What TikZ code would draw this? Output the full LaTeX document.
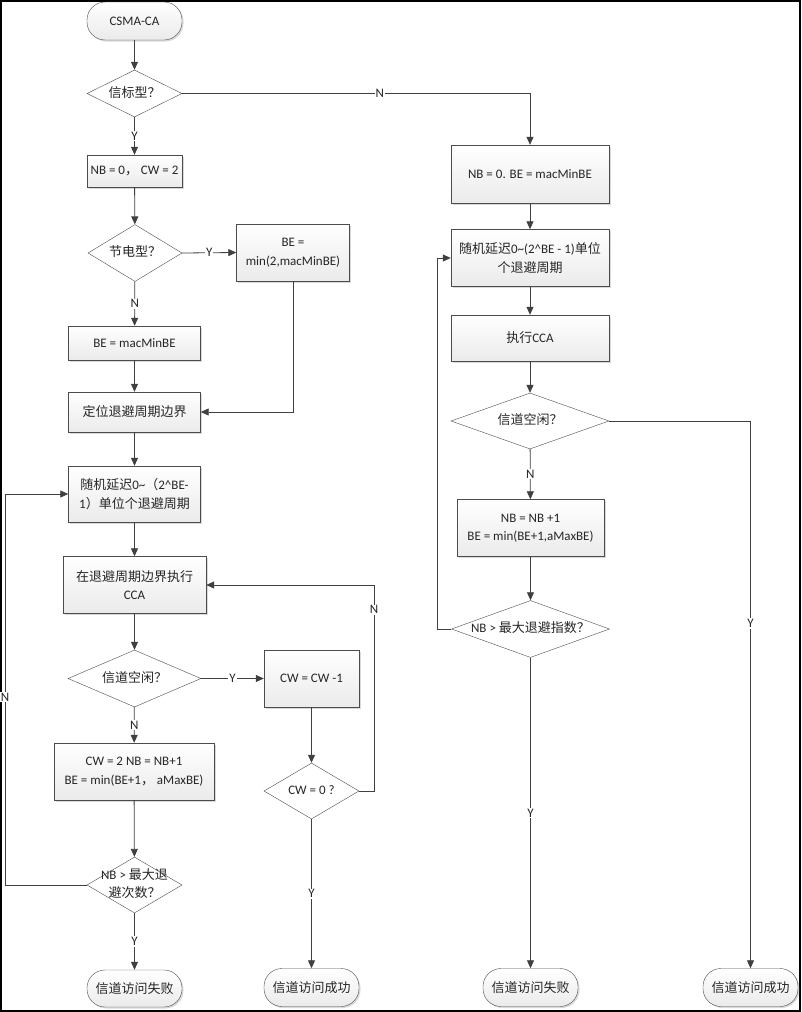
\documentclass[tikz,border=0pt]{standalone}
\usepackage{fontspec}
\setmainfont{Carlito}
\newfontfamily\cjk{Noto Sans CJK SC}
\usetikzlibrary{shapes.geometric,arrows.meta,shadows}
\newcommand{\zh}[1]{{\cjk #1}}
\newcommand{\qtext}[1]{\makebox[0pt]{\begin{tabular}{@{}c@{}}#1\end{tabular}}}

\begin{document}
\begin{tikzpicture}[
    x=1pt, y=-1pt,
    font=\fontsize{13}{18.5}\selectfont, text=black!85,
    box/.style 2 args={draw=black!70, top color=white, bottom color=black!8,
                       drop shadow={shadow xshift=1.5pt, shadow yshift=-1.5pt, opacity=0.3},
                       minimum width=#1pt, minimum height=#2pt, inner sep=2pt, align=center},
    term/.style 2 args={box={#1}{#2}, rounded corners=18pt},
    quest/.style 2 args={diamond, draw=black!70, fill=white, inner sep=0pt,
                         minimum width=#1pt, minimum height=#2pt},
    arr/.style={-{Triangle[length=8pt,width=7pt]}, draw=black!75, line width=0.8pt},
    lbl/.style={fill=white, inner sep=1pt, font=\fontsize{13}{15}\selectfont}
]
\useasboundingbox (0,0) rectangle (801,1012);
\draw[line width=1.6pt] (1,1) rectangle (799.7,1010.7);

\node[term={95}{38}] (start) at (134.5,21) {CSMA-CA};
\node[quest={95}{47}] (q1) at (134.5,93.5) {\qtext{\zh{信标型？}}};
\node[box={95}{32}] (b1) at (134.5,171) {NB = 0\zh{，} CW = 2};
\node[quest={94}{57}] (q2) at (135,253) {\qtext{\zh{节电型？}}};
\node[box={113}{57}] (b2) at (293,252.5) {BE =\\min(2,macMinBE)};
\node[box={132}{34}] (b3) at (134.5,343) {BE = macMinBE};
\node[box={132}{40}] (b4) at (134.5,412) {\zh{定位退避周期边界}};
\node[box={132}{56}] (b5) at (134.5,494) {\zh{随机延迟}0\textasciitilde\zh{（}2\textasciicircum BE-\\1\zh{）单位个退避周期}};
\node[box={143}{57}] (b6) at (134.5,585) {\zh{在退避周期边界执行}\\CCA};
\node[quest={133}{57}] (q3) at (134.5,678.5) {\qtext{\zh{信道空闲？}}};
\node[box={95}{57}] (b7) at (311.5,678.5) {CW = CW -1};
\node[box={160}{57}] (b8) at (134,771.5) {CW = 2 NB = NB+1\\BE = min(BE+1\zh{，} aMaxBE)};
\node[quest={95}{56}] (q4) at (311.5,791) {\qtext{CW = 0 ?}};
\node[quest={95}{56}] (q5) at (134.5,885) {\qtext{NB > \zh{最大退}\\\zh{避次数？}}};
\node[term={95}{37}] (e1) at (134.5,988.5) {\zh{信道访问失败}};
\node[term={95}{38}] (e2) at (311.5,987.5) {\zh{信道访问成功}};

\node[box={158}{58}] (b9) at (530,174) {NB = 0. BE = macMinBE};
\node[box={158}{57}] (b10) at (530,258) {\zh{随机延迟}0\textasciitilde(2\textasciicircum BE - 1)\zh{单位}\\\zh{个退避周期}};
\node[box={158}{46}] (b11) at (530,338) {\zh{执行}CCA};
\node[quest={158}{56}] (q6) at (530,421) {\qtext{\zh{信道空闲？}}};
\node[box={147}{57}] (b12) at (530.5,528) {NB = NB +1\\BE = min(BE+1,aMaxBE)};
\node[quest={158}{57}] (q7) at (530.5,629) {\qtext{NB > \zh{最大退避指数？}}};
\node[term={95}{38}] (e3) at (530.5,987.5) {\zh{信道访问失败}};
\node[term={95}{38}] (e4) at (750.5,987.5) {\zh{信道访问成功}};

\coordinate (c1) at (374,0);
\coordinate (c2) at (5,0);
\coordinate (c3) at (437,0);

\draw[arr] (start) -- (q1);
\draw[arr] (q1) -- node[lbl] {Y} (b1);
\draw[arr] (b1) -- (q2);
\draw[arr] (q2) -- node[lbl] {N} (b3);
\draw[arr] (q2.east) -- node[lbl] {Y} (b2.west);
\draw[arr] (b2.south) |- (b4.east);
\draw[arr] (b3) -- (b4);
\draw[arr] (b4) -- (b5);
\draw[arr] (b5) -- (b6);
\draw[arr] (b6) -- (q3);
\draw[arr] (q3) -- node[lbl] {N} (b8);
\draw[arr] (q3.east) -- node[lbl] {Y} (b7.west);
\draw[arr] (b7) -- (q4);
\draw[arr] (q4) -- node[lbl] {Y} (e2);
\draw[arr] (q4.east) -| node[lbl, pos=0.94] {N} (c1 |- b6.east) -- (b6.east);
\draw[arr] (b8) -- (q5);
\draw[arr] (q5) -- node[lbl] {Y} (e1);
\draw[arr] (q5.west) -| node[lbl, pos=0.74] {N} (c2 |- b5.west) -- (b5.west);

\draw[arr] (q1.east) -| node[lbl, pos=0.284] {N} (b9.north);
\draw[arr] (b9) -- (b10);
\draw[arr] (b10) -- (b11);
\draw[arr] (b11) -- (q6);
\draw[arr] (q6) -- node[lbl] {N} (b12);
\draw[arr] (q6.east) -| node[lbl, pos=0.685] {Y} (e4.north);
\draw[arr] (b12) -- (q7);
\draw[arr] (q7) -- node[lbl] {Y} (e3);
\draw[arr] (q7.west) -| (c3 |- b10.west) -- (b10.west);
\end{tikzpicture}
\end{document}
